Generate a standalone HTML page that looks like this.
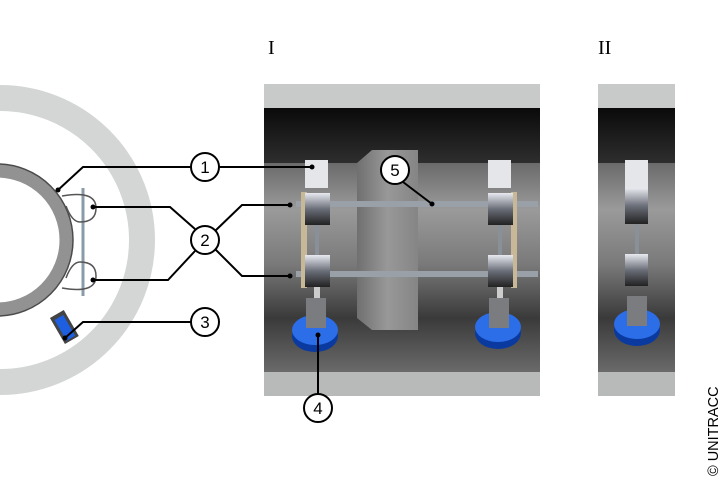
<!DOCTYPE html>
<html><head><meta charset="utf-8"><style>
html,body{margin:0;padding:0;background:#fff;width:720px;height:480px;overflow:hidden}
</style></head><body>
<svg width="720" height="480" viewBox="0 0 720 480" xmlns="http://www.w3.org/2000/svg" font-family="Liberation Sans, sans-serif">
<defs>
<linearGradient id="pipe" x1="0" y1="0" x2="0" y2="1">
<stop offset="0" stop-color="#6a6a6a"/><stop offset="0.3" stop-color="#9a9a9a"/><stop offset="0.65" stop-color="#7a7a7a"/><stop offset="1" stop-color="#3a3a3a"/></linearGradient>
<linearGradient id="dark" x1="0" y1="0" x2="0" y2="1">
<stop offset="0" stop-color="#0a0a0a"/><stop offset="1" stop-color="#2e2e2e"/></linearGradient>
<linearGradient id="low" x1="0" y1="0" x2="0" y2="1">
<stop offset="0" stop-color="#3a3a3a"/><stop offset="1" stop-color="#6a6a6a"/></linearGradient>
<linearGradient id="clamp" x1="0" y1="0" x2="0" y2="1">
<stop offset="0" stop-color="#e8eaf0"/><stop offset="0.5" stop-color="#6a6e78"/><stop offset="1" stop-color="#222"/></linearGradient>
<linearGradient id="sock" x1="0" y1="0" x2="1" y2="0">
<stop offset="0" stop-color="#707070"/><stop offset="0.5" stop-color="#989898"/><stop offset="1" stop-color="#858585"/></linearGradient>
</defs>

<!-- Left cross-section -->
<circle cx="0" cy="240" r="142" fill="none" stroke="#d4d6d6" stroke-width="26"/>
<circle cx="-3" cy="240" r="69" fill="none" stroke="#929292" stroke-width="13"/>
<circle cx="-3" cy="240" r="76" fill="none" stroke="#4a4a4a" stroke-width="1.5"/>
<line x1="83" y1="188" x2="83" y2="296" stroke="#8a9aa8" stroke-width="3"/>
<path d="M62,196 Q96,190 96,208 Q96,222 80,222 Q72,222 66,206" fill="none" stroke="#555" stroke-width="1.5"/>
<path d="M62,288 Q96,294 96,276 Q96,262 80,262 Q72,262 66,278" fill="none" stroke="#555" stroke-width="1.5"/>
<g transform="translate(58,318) rotate(-30)">
<rect x="-7" y="-4" width="16" height="30" fill="#444"/>
<rect x="-4" y="0" width="10" height="24" fill="#1e5ee0"/>
</g>

<!-- Panel I -->
<rect x="264" y="84" width="276" height="24" fill="#c8caca"/>
<rect x="264" y="108" width="276" height="55" fill="url(#dark)"/>
<rect x="264" y="163" width="276" height="155" fill="url(#pipe)"/>
<rect x="264" y="318" width="276" height="54" fill="url(#low)"/>
<rect x="264" y="372" width="276" height="24" fill="#b8baba"/>
<path d="M357,163 L372,150 L418,150 L418,330 L372,330 L357,318 Z" fill="url(#sock)"/>
<rect x="296" y="201" width="242" height="6" fill="#9aa0a8"/>
<rect x="296" y="271" width="242" height="6" fill="#9aa0a8"/>
<rect x="301" y="192" width="6" height="96" fill="#c8b898"/>
<rect x="511" y="192" width="6" height="96" fill="#c8b898"/>
<g>
<rect x="305" y="160" width="23" height="28" fill="#e4e6ea"/>
<rect x="305" y="193" width="25" height="32" fill="url(#clamp)"/>
<rect x="315" y="225" width="4" height="30" fill="#8a9098"/>
<rect x="305" y="255" width="25" height="32" fill="url(#clamp)"/>
<rect x="314" y="287" width="6" height="16" fill="#ccc"/>
<ellipse cx="315" cy="336" rx="23" ry="16" fill="#0a3aa0"/>
<ellipse cx="315" cy="330" rx="23" ry="15" fill="#2b6ee8"/>
<rect x="306" y="298" width="20" height="30" fill="#7a7c80"/>
</g>
<g>
<rect x="488" y="160" width="23" height="28" fill="#e4e6ea"/>
<rect x="488" y="193" width="25" height="32" fill="url(#clamp)"/>
<rect x="498" y="225" width="4" height="30" fill="#8a9098"/>
<rect x="488" y="255" width="25" height="32" fill="url(#clamp)"/>
<rect x="497" y="287" width="6" height="16" fill="#ccc"/>
<ellipse cx="498" cy="333" rx="23" ry="16" fill="#0a3aa0"/>
<ellipse cx="498" cy="327" rx="23" ry="15" fill="#2b6ee8"/>
<rect x="489" y="298" width="20" height="30" fill="#7a7c80"/>
</g>

<!-- Panel II -->
<rect x="598" y="84" width="77" height="24" fill="#c8caca"/>
<rect x="598" y="108" width="77" height="55" fill="url(#dark)"/>
<rect x="598" y="163" width="77" height="155" fill="url(#pipe)"/>
<rect x="598" y="318" width="77" height="54" fill="url(#low)"/>
<rect x="598" y="372" width="77" height="24" fill="#b8baba"/>
<rect x="625" y="160" width="23" height="28" fill="#e4e6ea"/>
<rect x="625" y="188" width="23" height="36" fill="url(#clamp)"/>
<rect x="635" y="224" width="4" height="30" fill="#8a9098"/>
<rect x="625" y="254" width="23" height="32" fill="url(#clamp)"/>
<ellipse cx="637" cy="330" rx="23" ry="16" fill="#0a3aa0"/>
<ellipse cx="637" cy="324" rx="23" ry="15" fill="#2b6ee8"/>
<rect x="627" y="296" width="20" height="30" fill="#7a7c80"/>

<!-- leader lines -->
<g stroke="#000" stroke-width="2" fill="none">
<polyline points="58,190 83,167 191,167"/>
<polyline points="219,167 312,167"/>
<polyline points="93,207 170,207 195,229"/>
<polyline points="93,280 168,280 195,251"/>
<polyline points="215,231 242,205 290,205"/>
<polyline points="215,249 242,276 290,276"/>
<polyline points="65,338 83,322 191,322"/>
<line x1="318" y1="335" x2="318" y2="394"/>
<line x1="403" y1="182" x2="432" y2="204"/>
</g>
<g fill="#000"><circle cx="58" cy="190" r="2.5"/><circle cx="93" cy="207" r="2.5"/><circle cx="93" cy="280" r="2.5"/><circle cx="65" cy="338" r="2.5"/><circle cx="290" cy="205" r="2.5"/><circle cx="290" cy="276" r="2.5"/><circle cx="312" cy="167" r="2.5"/><circle cx="318" cy="335" r="2.5"/><circle cx="432" cy="204" r="2.5"/></g>
<g stroke="#000" stroke-width="2" fill="#fff">
<circle cx="205" cy="167" r="14"/><circle cx="205" cy="240" r="14"/><circle cx="205" cy="322" r="14"/><circle cx="318" cy="408" r="14"/><circle cx="395" cy="170" r="14"/>
</g>
<g font-size="17" text-anchor="middle" fill="#000">
<text x="205" y="173">1</text><text x="205" y="246">2</text><text x="205" y="328">3</text><text x="318" y="414">4</text><text x="395" y="176">5</text>
</g>
<text x="268" y="54" font-family="Liberation Serif, serif" font-size="20">I</text>
<text x="598" y="54" font-family="Liberation Serif, serif" font-size="20">II</text>
<text transform="translate(718,476) rotate(-90)" font-size="14.5" fill="#000">© UNITRACC</text>
</svg>
</body></html>
